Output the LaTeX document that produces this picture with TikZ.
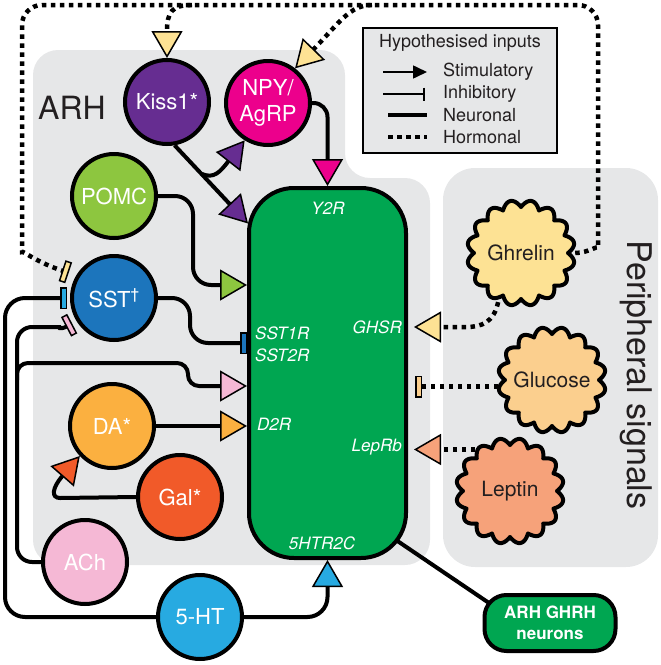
\documentclass[tikz,border=0pt]{standalone}
\usepackage{fontspec}
\setmainfont{TeX Gyre Heros}
\usetikzlibrary{arrows.meta}
\definecolor{arhgray}{HTML}{E6E7E8}
\definecolor{kisscol}{HTML}{662D91}
\definecolor{npycol}{HTML}{EC008C}
\definecolor{pomccol}{HTML}{8DC63F}
\definecolor{sstcol}{HTML}{1C75BC}
\definecolor{dacol}{HTML}{FBB040}
\definecolor{galcol}{HTML}{F15A29}
\definecolor{achcol}{HTML}{F5B8D5}
\definecolor{htcol}{HTML}{27AAE1}
\definecolor{ghcol}{HTML}{00A651}
\definecolor{hormyel}{HTML}{FDE294}
\definecolor{glucol}{HTML}{FBCF8E}
\definecolor{lepcol}{HTML}{F6A27A}
\definecolor{darktxt}{HTML}{231F20}
\pgfdeclarelayer{back}
\pgfdeclarelayer{mid}
\pgfsetlayers{back,mid,main}
\tikzset{
  neur/.style={line width=4pt, draw=black},
  horm/.style={line width=4.5pt, draw=black, dash pattern=on 4.5pt off 4.5pt},
  stim/.style={-{Triangle[length=27pt,width=31pt,fill=#1,line width=1.5pt]}},
  inh/.style={-{Rectangle[length=7pt,width=22pt,fill=#1,line width=1.5pt]}},
  cnode/.style={circle, draw, line width=4pt, minimum size=84pt, inner sep=0pt,
    text=white, font=\fontsize{22}{26}\selectfont},
  rlab/.style={inner sep=0pt, text=white, font=\fontsize{17}{20}\selectfont\itshape},
  cloudlab/.style={circle, minimum size=108pt, inner sep=0pt, text=darktxt,
    font=\fontsize{21}{24}\selectfont},
  legtxt/.style={inner sep=0pt, text=darktxt, font=\fontsize{18}{21}\selectfont},
}
\begin{document}
\begin{tikzpicture}[x=1pt,y=-1pt]
\useasboundingbox (0,0) rectangle (661,665);
% background regions
\begin{pgfonlayer}{back}
\fill[arhgray, rounded corners=25pt] (33,565) -- (33,50) -- (345,50) -- (345,178) -- (430,178) -- (430,565) -- cycle;
\fill[arhgray, rounded corners=32pt] (443,168) rectangle (658,567);
\end{pgfonlayer}
\node[text=darktxt, inner sep=0pt, font=\fontsize{32}{36}\selectfont] (arh) at (72,108) {ARH};
\node[text=darktxt, inner sep=0pt, rotate=-90, font=\fontsize{34}{38}\selectfont] (periph) at (636,375) {Peripheral signals};
% green box
\node[draw, line width=4pt, fill=ghcol, rounded corners=45pt, minimum width=157pt,
  minimum height=370pt, inner sep=0pt] (gh) at (327.5,373) {};
\node[rlab] (ry2r) at (328,208) {Y2R};
\node[rlab, anchor=west] (rsst1) at (255,333) {SST1R};
\node[rlab, anchor=west] (rsst2) at (255,355) {SST2R};
\node[rlab, anchor=west] (rd2r) at (257,424) {D2R};
\node[rlab, anchor=east] (rghsr) at (402,327) {GHSR};
\node[rlab, anchor=east] (rlep) at (402,447) {LepRb};
\node[rlab] (r5ht) at (322,543) {5HTR2C};
% neurons
\node[cnode, fill=kisscol] (kiss) at (167,102) {Kiss1*};
\node[cnode, fill=npycol, align=center] (npy) at (268,103) {NPY/\\AgRP};
\node[cnode, fill=pomccol] (pomc) at (114,196) {POMC};
\node[cnode, fill=sstcol] (sst) at (114,298) {SST\textsuperscript{\textdagger}};
\node[cnode, fill=dacol] (da) at (112,426) {DA*};
\node[cnode, fill=galcol] (gal) at (180,497) {Gal*};
\node[cnode, fill=achcol] (ach) at (85,562) {ACh};
\node[cnode, fill=htcol] (ht) at (200,617) {5-HT};
% GHRH box
\node[draw, line width=4pt, fill=ghcol, rounded corners=22pt, minimum width=131pt,
  minimum height=56pt, inner sep=0pt, align=center, text=white,
  font=\bfseries\fontsize{17}{21}\selectfont] (ghrh) at (550,623) {ARH GHRH\\neurons};
% clouds
\filldraw[fill=hormyel, line width=4pt, line join=round] plot[domain=0:360, samples=401]
  ({521+(47+7*abs(sin(8*\x)))*cos(\x)}, {253+(46+7*abs(sin(8*\x)))*sin(\x)}) -- cycle;
\node[cloudlab] (ghrelin) at (521,253) {Ghrelin};
\filldraw[fill=glucol, line width=4pt, line join=round] plot[domain=0:360, samples=401]
  ({552+(47+7*abs(sin(8*\x)))*cos(\x)}, {380+(46+7*abs(sin(8*\x)))*sin(\x)}) -- cycle;
\node[cloudlab] (glucose) at (552,380) {Glucose};
\filldraw[fill=lepcol, line width=4pt, line join=round] plot[domain=0:360, samples=401]
  ({510+(47+7*abs(sin(8*\x)))*cos(\x)}, {491+(46+7*abs(sin(8*\x)))*sin(\x)}) -- cycle;
\node[cloudlab] (leptin) at (510,491) {Leptin};
% legend
\node[draw, line width=1.5pt, fill=arhgray, minimum width=194pt, minimum height=125pt,
  inner sep=0pt] (legend) at (460,90.5) {};
\node[legtxt] (legtitle) at (460,43) {Hypothesised inputs};
\node[legtxt, anchor=west] (lstim) at (443,72) {Stimulatory};
\node[legtxt, anchor=west] (linh) at (443,94) {Inhibitory};
\node[legtxt, anchor=west] (lneu) at (443,115) {Neuronal};
\node[legtxt, anchor=west] (lhor) at (443,137) {Hormonal};
\draw[line width=1.6pt, -{Triangle[length=14pt,width=13pt]}] ([xshift=-60pt]lstim.west) -- ([xshift=-16pt]lstim.west);
\draw[line width=1.6pt, -{Bar[width=13pt,line width=1.6pt]}] ([xshift=-60pt]linh.west) -- ([xshift=-18pt]linh.west);
\draw[neur] ([xshift=-55pt]lneu.west) -- ([xshift=-16pt]lneu.west);
\draw[horm] ([xshift=-55pt]lhor.west) -- ([xshift=-16pt]lhor.west);
% connectors
\coordinate (topK) at (192,5);
\coordinate (topN) at (372,5);
\coordinate (kbr) at (202,174);
\coordinate (kissT) at (248,223.5);
\coordinate (achbr) at (17,380);
\begin{pgfonlayer}{mid}
% hormonal
\draw[horm, rounded corners=20pt, inh=hormyel, shorten >=8pt]
  (ghrelin.east) .. controls (588,253) and (598,245) .. (598,228) -- (598,5) -- (22,5) -- (22,232)
  .. controls (22,250) and (36,262) .. (sst.149);
\draw[horm, stim=hormyel] (topK) .. controls (172,5) and (167,12) .. (kiss.north);
\draw[horm, stim=hormyel] (topN) .. controls (350,5) and (340,22) .. (npy.52);
\draw[horm, stim=hormyel, shorten >=6pt] (ghrelin.-115) .. controls (494,322) and (482,327) .. (466,327) -- (gh.east |- 0,327);
\draw[horm, inh=glucol, shorten >=7pt] (glucose.-173) -- (gh.east |- glucose.-173);
\draw[horm, stim=lepcol, shorten >=6pt] (leptin.130) -- (gh.east |- leptin.130);
% neuronal
\draw[neur, stim=kisscol] (kiss.-80) -- (kissT);
\draw[neur, stim=kisscol] (kbr) .. controls (214,179) and (220,172) .. (npy.-122);
\draw[neur, stim=npycol, rounded corners=14pt] (npy.east) -| (gh.north);
\draw[neur, stim=pomccol, rounded corners=18pt] (pomc.east) -| (193,285) -- (gh.west |- 0,285);
\draw[neur, inh=sstcol, rounded corners=18pt] (sst.east) -| (190,343) -- (gh.west |- 0,343);
\draw[neur, inh=htcol, rounded corners=20pt, shorten >=3pt] (ht.west) -| (5,298) -- (sst.west);
\draw[neur, stim=htcol, rounded corners=20pt] (ht.east) -| (gh.south);
\draw[neur, inh=achcol, rounded corners=15pt, shorten >=5pt] (ach.west) -| (17,327) -- (46,327)
  .. controls (56,327) and (60,330) .. (sst.-148);
\draw[neur, stim=achcol, rounded corners=11pt] (achbr) |- (188,363) |- (gh.west |- 0,386);
\draw[neur, stim=dacol] (da.east) -- (da.east -| gh.west);
\draw[neur, stim=galcol] (gal.west) -- (60,498) .. controls (51,498) and (52,488) .. (da.-137);
\draw[neur] ([shift={(-12,-20)}]gh.south east) -- ([shift={(8,11)}]ghrh.north west);
\end{pgfonlayer}
\end{tikzpicture}
\end{document}
